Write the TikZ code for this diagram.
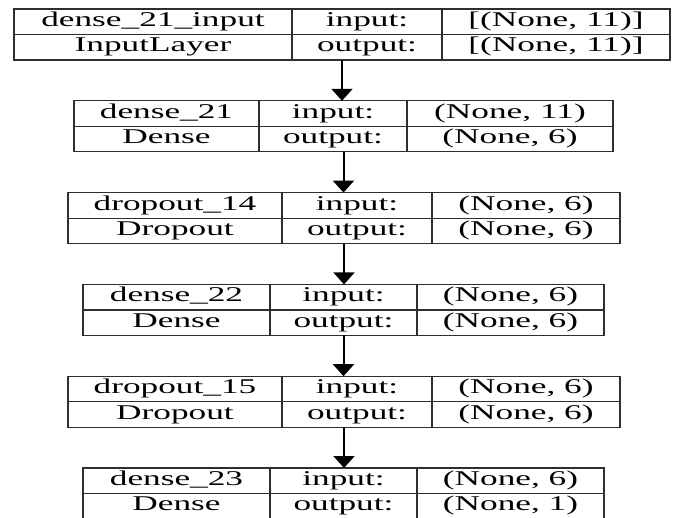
\documentclass[tikz,border=0pt]{standalone}
\usepackage{fontspec}
\setmainfont{Liberation Serif}[FakeStretch=1.68]
\usetikzlibrary{arrows.meta}

\tikzset{
  frame/.style={draw=black!82, line width=1.2pt, rectangle, inner sep=0pt, outer sep=0pt},
  vline/.style={draw=black!82, line width=2.4pt},
  hline/.style={draw=black!82, line width=1.2pt},
  lbl/.style={anchor=base, inner sep=0pt, font=\fontsize{21}{21}\selectfont},
  conn/.style={draw=black, line width=2pt, -{Triangle[width=21pt,length=12pt]}}
}

\def\boxh{51}

% one record: #1 name, #2 top, #3 left, #4 first divider, #5 second divider, #6 right
\newcommand{\layerbox}[6]{%
  \pgfmathsetmacro{\lbot}{#2+\boxh}%
  \pgfmathsetmacro{\lmid}{#2+\boxh/2}%
  \pgfmathsetmacro{\lcx}{(#3+#6)/2}%
  \pgfmathsetmacro{\lw}{#6-#3}%
  \pgfmathsetmacro{\cA}{(#3+#4)/2}%
  \pgfmathsetmacro{\cB}{(#4+#5)/2}%
  \pgfmathsetmacro{\cC}{(#5+#6)/2}%
  \pgfmathsetmacro{\rA}{#2+17.5}%
  \pgfmathsetmacro{\rB}{\lmid+17.3}%
  \node[frame, minimum width=\lw pt, minimum height=\boxh pt] (#1) at (\lcx,\lmid) {};
  \draw[vline] (#1.north west) -- (#1.south west);
  \draw[vline] (#1.north east) -- (#1.south east);
  \draw[vline] (#4,#2) -- (#4,\lbot);
  \draw[vline] (#5,#2) -- (#5,\lbot);
  \draw[hline] (#1.west) -- (#1.east);
}
% the four texts of the last record: layer name, class, input shape, output shape
\newcommand{\layertext}[4]{%
  \node[lbl] at (\cA,\rA) {#1};
  \node[lbl] at (\cA,\rB) {#2};
  \node[lbl] at (\cB,\rA) {input:};
  \node[lbl] at (\cB,\rB) {output:};
  \node[lbl] at (\cC,\rA) {#3};
  \node[lbl] at (\cC,\rB) {#4};
}

\begin{document}
\begin{tikzpicture}[x=1pt, y=-1pt]
  \useasboundingbox (0,0) rectangle (679,517);

  \layerbox{L1}{9}{14}{292}{442}{670}
  \layertext{dense\_21\_input}{InputLayer}{[(None, 11)]}{[(None, 11)]}

  \layerbox{L2}{100.8}{74}{259}{407}{613}
  \layertext{dense\_21}{Dense}{(None, 11)}{(None, 6)}

  \layerbox{L3}{192.6}{68}{282}{432}{620}
  \layertext{dropout\_14}{Dropout}{(None, 6)}{(None, 6)}

  \layerbox{L4}{284.4}{83}{270}{417}{604}
  \layertext{dense\_22}{Dense}{(None, 6)}{(None, 6)}

  \layerbox{L5}{376.2}{68}{282}{432}{620}
  \layertext{dropout\_15}{Dropout}{(None, 6)}{(None, 6)}

  \layerbox{L6}{468}{83}{270}{417}{604}
  \layertext{dense\_23}{Dense}{(None, 6)}{(None, 1)}

  \foreach \a/\b in {L1/L2, L2/L3, L3/L4, L4/L5, L5/L6}
    \draw[conn] (\a.south) -- (\a.south |- \b.north);
\end{tikzpicture}
\end{document}
